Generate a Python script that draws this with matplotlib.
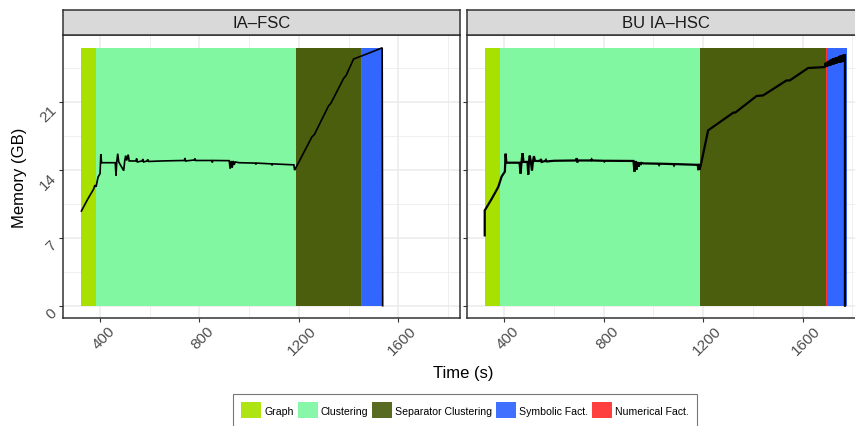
import matplotlib
matplotlib.use("Agg")
import matplotlib.pyplot as plt
from matplotlib.patches import Patch
from matplotlib.transforms import ScaledTranslation

plt.rcParams['font.family'] = ['Liberation Sans', 'DejaVu Sans']

# phases: name, start (s), end (s)
phase_names = ["Graph", "Clustering", "Separator Clustering", "Symbolic Fact.", "Numerical Fact."]
fsc_start = [324, 384, 1190, 1451, 1449.5]
fsc_end = [384, 1190, 1451, 1538, 1452]
hsc_start = [322, 383, 1186, 1695, 1693]
hsc_end = [383, 1186, 1694, 1777, 1696]
mem_top = 26.53

# memory usage (GB) over time (s)
fsc_t = [326, 352, 375, 380, 385, 393, 401, 404, 407, 462, 465, 468, 472, 476, 496, 500,
         504, 508, 514, 518, 545, 548, 551, 570, 573, 576, 590, 593, 596, 650, 700, 740,
         742, 745, 780, 782, 785, 850, 852, 855, 920, 924, 928, 932, 936, 940, 944, 960,
         1025, 1027, 1030, 1090, 1092, 1095, 1180, 1183, 1190, 1253, 1262, 1320, 1328,
         1380, 1390, 1420, 1451, 1501, 1535, 1537]
fsc_mem = [9.75, 11.0, 12.0, 12.4, 12.25, 13.25, 13.6, 15.6, 14.72, 14.72, 13.4, 14.8, 15.65,
           14.8, 13.9, 14.9, 15.45, 14.95, 15.55, 14.9, 14.9, 15.15, 14.8, 14.9, 15.1, 14.8,
           14.9, 15.05, 14.85, 14.9, 14.93, 14.95, 15.2, 14.9, 15.0, 15.15, 14.95, 14.95,
           14.75, 14.95, 14.93, 14.1, 14.9, 14.2, 14.9, 14.5, 14.8, 14.72, 14.68, 14.55,
           14.68, 14.6, 14.45, 14.6, 14.5, 13.95, 14.3, 17.4, 17.6, 20.6, 20.8, 23.4, 23.7,
           25.4, 25.7, 26.2, 26.55, 0]

hsc_t = [322, 322, 350, 376, 380, 390, 403, 406, 409, 462, 466, 470, 474, 478, 494, 497, 500,
         503, 507, 512, 516, 520, 524, 545, 548, 551, 565, 568, 571, 600, 690, 692, 694, 697,
         750, 752, 755, 800, 803, 806, 920, 924, 928, 932, 936, 940, 944, 948, 952, 960,
         1020, 1023, 1026, 1080, 1083, 1086, 1178, 1181, 1183, 1185, 1190, 1220, 1321, 1330,
         1415, 1441, 1535, 1548, 1622, 1689, 1692, 1695, 1698, 1701, 1704, 1707, 1710, 1713,
         1716, 1719, 1722, 1725, 1728, 1731, 1734, 1737, 1740, 1743, 1746, 1749, 1752, 1755,
         1758, 1761, 1764, 1767, 1770, 1770]
hsc_mem = [7.24, 9.8, 11.0, 12.2, 12.5, 13.3, 13.8, 15.65, 14.72, 14.72, 13.6, 14.8, 15.7,
           14.8, 14.8, 13.5, 14.9, 15.45, 14.9, 13.9, 14.9, 15.4, 14.9, 14.9, 15.1, 14.8,
           14.9, 15.0, 14.85, 14.92, 14.95, 15.2, 14.75, 14.95, 14.95, 15.05, 14.95, 14.92,
           14.85, 14.92, 14.9, 13.8, 14.9, 14.0, 14.8, 14.3, 14.75, 14.5, 14.7, 14.65, 14.62,
           14.5, 14.62, 14.58, 14.45, 14.58, 14.5, 13.95, 14.6, 14.0, 14.4, 18.05, 19.87,
           19.9, 21.59, 21.65, 23.19, 23.19, 24.47, 24.57, 25.0, 24.6, 25.1, 24.65, 25.2,
           24.7, 25.3, 24.75, 25.35, 24.8, 25.45, 24.85, 25.5, 24.9, 25.55, 24.95, 25.6,
           25.0, 25.7, 25.0, 25.75, 25.05, 25.8, 25.1, 25.85, 25.1, 25.9, 0]

panel_titles = ["IA\u2013FSC", "BU IA\u2013HSC"]
x_ticks = [400, 800, 1200, 1600]
y_ticks = [0, 7, 14, 21]

fill_colors = ['#A8E000', '#80F7A0', '#4B5E0E', '#3366FF', '#FF3333']
key_colors = ['#ADE412', '#88F7AA', '#586B20', '#4070FF', '#FF4040']

W, H = 855, 427
fig = plt.figure(figsize=(W / 100, H / 100), dpi=100)

panels = [(fsc_start, fsc_end, fsc_t, fsc_mem, 1.2),
          (hsc_start, hsc_end, hsc_t, hsc_mem, 1.6)]
lefts = [63, 467.3]
pw = 397.3
ptop, pbot = 36, 319.3
shift = ScaledTranslation(3.5 / 100, 0, fig.dpi_scale_trans)

for i, (starts, ends, t, mem, lw) in enumerate(panels):
    ax = fig.add_axes([lefts[i] / W, 1 - pbot / H, pw / W, (pbot - ptop) / H])
    widths = [e - s for s, e in zip(starts, ends)]
    ax.bar(starts, mem_top, width=widths, align='edge', color=fill_colors, lw=0, zorder=1)
    ax.plot(t, mem, color='black', lw=lw, zorder=3, solid_joinstyle='miter')
    ax.set_xlim(252, 1849)
    ax.set_ylim(-1.30, 27.87)
    ax.set_xticks(x_ticks)
    ax.set_xticks([600, 1000, 1400, 1800], minor=True)
    ax.set_yticks(y_ticks)
    ax.set_yticks([3.5, 10.5, 17.5, 24.5], minor=True)
    ax.grid(which='major', color='#EBEBEB', lw=1.1, zorder=0)
    ax.grid(which='minor', color='#EBEBEB', lw=0.55, zorder=0)
    ax.set_axisbelow(True)
    for s in ax.spines.values():
        s.set_color('#333333')
        s.set_linewidth(1.1)
    ax.tick_params(which='major', direction='out', length=2.75, width=0.8, color='#333333',
                   labelcolor='#4D4D4D', labelsize=11)
    ax.tick_params(which='minor', length=0)
    ax.tick_params(axis='x', pad=1)
    ax.tick_params(axis='y', pad=0)
    ax.set_xticklabels([str(v) for v in x_ticks], rotation=45, ha='center', va='top')
    for lab in ax.get_xticklabels():
        lab.set_transform(lab.get_transform() + shift)
    if i == 0:
        ax.set_yticklabels([str(v) for v in y_ticks], rotation=45, ha='right', va='top')
    else:
        ax.set_yticklabels([])

    # facet strip
    sax = fig.add_axes([lefts[i] / W, 1 - ptop / H, pw / W, 25 / H])
    sax.set_facecolor('#D9D9D9')
    sax.set_xticks([])
    sax.set_yticks([])
    for s in sax.spines.values():
        s.set_color('#333333')
        s.set_linewidth(1.1)
    sax.text(0.5, 0.5, panel_titles[i], ha='center', va='center',
             fontsize=12, color='#1A1A1A', transform=sax.transAxes)

fig.text(19.5 / W, 1 - 177.5 / H, "Memory (GB)", rotation=90, ha='center', va='center',
         fontsize=12)
fig.text(463.5 / W, 1 - 374 / H, "Time (s)", ha='center', va='center', fontsize=12)

handles = [Patch(facecolor=c, edgecolor='none', label=n) for c, n in zip(key_colors, phase_names)]
leg = fig.legend(handles=handles, loc='upper center', bbox_to_anchor=(465 / W, 1 - 395 / H),
                 ncol=5, fontsize=7.6, frameon=True, fancybox=False, borderpad=0.8,
                 handlelength=1.9, handleheight=1.9, handletextpad=0.3, columnspacing=0.35,
                 borderaxespad=0)
leg.get_frame().set_edgecolor('#555555')
leg.get_frame().set_linewidth(0.8)

fig.savefig("out.png", dpi=100)
